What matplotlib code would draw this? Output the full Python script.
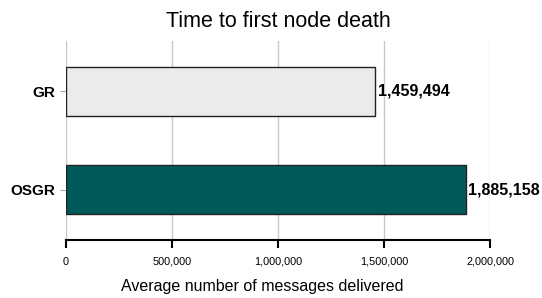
import numpy as np
from matplotlib import pyplot as plt

plt.rcParams['font.family'] = ['Liberation Sans', 'DejaVu Sans']

protocols = ['OSGR', 'GR']
messages = [1885158, 1459494]
colors = ['#005a5a', '#ebebeb']
xticks = [0, 500000, 1000000, 1500000, 2000000]

fig = plt.figure(figsize=(5.42, 2.98), dpi=100)
ax = fig.add_axes([0.1218, 0.1946, 0.7823, 0.6678])

ypos = np.arange(len(protocols))
ax.barh(ypos, messages, height=0.5, color=colors, edgecolor='#222222', linewidth=1.0, zorder=3)
for y, v in zip(ypos, messages):
    ax.text(v + 12000, y, f'{v:,}', va='center', ha='left', fontsize=11.5, fontweight='bold')

ax.set_xlim(0, 2000000)
ax.set_ylim(-0.515, 1.515)
ax.set_yticks(ypos)
ax.set_yticklabels(protocols, fontsize=11, fontweight='bold')
ax.set_xticks(xticks)
ax.set_xticklabels([f'{t:,}' for t in xticks], fontsize=7.8)
ax.xaxis.grid(True, color='#c8c8c8', linewidth=1.0, zorder=0)

for s in ['top', 'right', 'left']:
    ax.spines[s].set_visible(False)
ax.spines['bottom'].set_linewidth(1.5)
ax.tick_params(axis='x', length=6, width=1.5, pad=6)
ax.tick_params(axis='y', length=4, color='#aaaaaa', pad=4)

ax.set_title('Time to first node death', fontsize=15.5, pad=10)
ax.set_xlabel('Average number of messages delivered', fontsize=11.5)
ax.xaxis.set_label_coords(0.462, -0.196)

plt.savefig('out.png', dpi=100)
